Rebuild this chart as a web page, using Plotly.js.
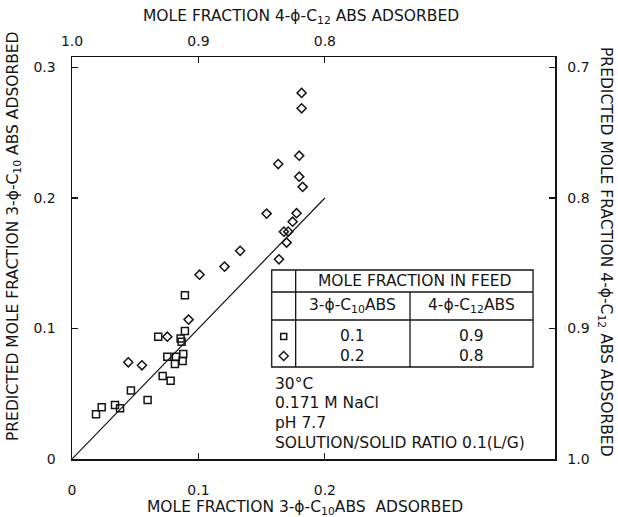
<!DOCTYPE html>
<html>
<head>
<meta charset="utf-8">
<script src="https://cdn.plot.ly/plotly-3.0.1.min.js"></script>
<style>html,body{margin:0;padding:0;background:#fff;}#chart{width:618px;height:517px;}</style>
</head>
<body>
<div id="chart"></div>
<script>
// Feed 0.1 / 0.9 (squares): measured vs predicted mole fraction of 3-phi-C10 ABS
const squareX = [0.019, 0.0235, 0.034, 0.038, 0.0466, 0.0598, 0.0682, 0.0717, 0.078, 0.0754, 0.0814, 0.0822, 0.0859, 0.0867, 0.088, 0.0875, 0.0893, 0.0893];
const squareY = [0.0342, 0.0396, 0.0414, 0.0388, 0.0525, 0.0452, 0.0937, 0.0636, 0.060, 0.0784, 0.0728, 0.0784, 0.0924, 0.0899, 0.0805, 0.0751, 0.098, 0.1254];
// Feed 0.2 / 0.8 (diamonds)
const diamondX = [0.0445, 0.0553, 0.0754, 0.0922, 0.1009, 0.1206, 0.1330, 0.1539, 0.1631, 0.1637, 0.1697, 0.1676, 0.1710, 0.1745, 0.1776, 0.1824, 0.1797, 0.1797, 0.1816, 0.1816];
const diamondY = [0.0741, 0.0718, 0.0937, 0.1068, 0.1412, 0.1474, 0.1595, 0.1880, 0.2260, 0.1530, 0.1658, 0.1742, 0.1742, 0.1818, 0.1883, 0.2085, 0.2163, 0.2324, 0.2687, 0.2805];
// Line of perfect agreement
const fitX = [0, 0.2];
const fitY = [0, 0.2];

const bottomTicks = [0, 0.1, 0.2];
const bottomLabels = ['0', '0.1', '0.2'];
const topTicks = [1.0, 0.9, 0.8];
const topLabels = ['1.0', '0.9', '0.8'];
const leftTicks = [0, 0.1, 0.2, 0.3];
const leftLabels = ['0', '0.1', '0.2', '0.3'];
const rightTicks = [0.7, 0.8, 0.9, 1.0];
const rightLabels = ['0.7', '0.8', '0.9', '1.0'];

const tableHeader = 'MOLE FRACTION IN FEED';
const feedSpecies = ['3-ϕ-C<sub>10</sub>ABS', '4-ϕ-C<sub>12</sub>ABS'];
const feedSquare = ['0.1', '0.9'];
const feedDiamond = ['0.2', '0.8'];
const conditions = ['30°C', '0.171 M NaCl', 'pH 7.7', 'SOLUTION/SOLID RATIO 0.1(L/G)'];

const titleBottom = 'MOLE FRACTION 3-ϕ-C<sub>10</sub>ABS  ADSORBED';
const titleTop = 'MOLE FRACTION 4-ϕ-C<sub>12</sub> ABS ADSORBED';
const titleLeft = 'PREDICTED MOLE FRACTION 3-ϕ-C<sub>10</sub> ABS ADSORBED';
const titleRight = 'PREDICTED MOLE FRACTION 4-ϕ-C<sub>12</sub> ABS ADSORBED';

const INK = '#141414';
const FONT = 'DejaVu Sans, sans-serif';

const traces = [
  {x: fitX, y: fitY, mode: 'lines', line: {color: INK, width: 1.2}, showlegend: false, hoverinfo: 'skip'},
  // same agreement line expressed in the complementary (4-phi-C12) mole fractions: binds top/right axes
  {x: fitX.map(v => 1 - v), y: fitY.map(v => 1 - v), xaxis: 'x2', yaxis: 'y2', mode: 'lines',
   line: {color: INK, width: 1.2}, opacity: 0, showlegend: false, hoverinfo: 'skip'},
  {x: squareX, y: squareY, mode: 'markers', name: 'feed 0.1/0.9',
   marker: {symbol: 'square-open', size: 7, color: INK, line: {width: 1.5, color: INK}}, showlegend: false},
  {x: diamondX, y: diamondY, mode: 'markers', name: 'feed 0.2/0.8',
   marker: {symbol: 'diamond-open', size: 7, color: INK, line: {width: 1.5, color: INK}}, showlegend: false}
];

const axisCommon = {
  showgrid: false, zeroline: false, showline: true, linecolor: INK, linewidth: 1.5,
  ticks: 'inside', ticklen: 6, tickwidth: 1.2, tickcolor: INK,
  tickmode: 'array', tickfont: {family: FONT, size: 14, color: INK}, fixedrange: true
};

// table geometry (paper units of the plot area)
const tL = 0.4135, tD1 = 0.4631, tD2 = 0.6998, tR = 0.9545;
const tT = 0.4701, tH1 = 0.4154, tH2 = 0.3458, tB = 0.2289;
const tline = {color: INK, width: 1.3};
const shapes = [
  {type: 'rect', xref: 'paper', yref: 'paper', x0: tL, x1: tR, y0: tB, y1: tT, line: tline},
  {type: 'line', xref: 'paper', yref: 'paper', x0: tL, x1: tR, y0: tH1, y1: tH1, line: tline},
  {type: 'line', xref: 'paper', yref: 'paper', x0: tL, x1: tR, y0: tH2, y1: tH2, line: tline},
  {type: 'line', xref: 'paper', yref: 'paper', x0: tD1, x1: tD1, y0: tB, y1: tT, line: tline},
  {type: 'line', xref: 'paper', yref: 'paper', x0: tD2, x1: tD2, y0: tB, y1: tH1, line: tline}
];
// legend symbols inside the table
const symX = (tL + tD1) / 2;
const rowSqY = 0.305, rowDiY = 0.2562;
const sqW = 6 / 483, sqH = 6 / 402;
shapes.push({type: 'rect', xref: 'paper', yref: 'paper', x0: symX - sqW / 2, x1: symX + sqW / 2,
  y0: rowSqY - sqH / 2, y1: rowSqY + sqH / 2, line: {color: INK, width: 1.5}});
const dW = 4.6 / 483, dH = 4.6 / 402;
shapes.push({type: 'path', xref: 'paper', yref: 'paper',
  path: `M ${symX - dW} ${rowDiY} L ${symX} ${rowDiY + dH} L ${symX + dW} ${rowDiY} L ${symX} ${rowDiY - dH} Z`,
  line: {color: INK, width: 1.4}});

const tf = {family: FONT, size: 15.5, color: INK};
const annotations = [];
function ann(text, x, y, opts) {
  annotations.push(Object.assign({text: text, x: x, y: y, xref: 'paper', yref: 'paper',
    showarrow: false, xanchor: 'center', yanchor: 'middle', font: tf}, opts || {}));
}
ann(tableHeader, (tD1 + tR) / 2, (tT + tH1) / 2);
ann(feedSpecies[0], (tD1 + tD2) / 2, 0.381);
ann(feedSpecies[1], (tD2 + tR) / 2, 0.381);
ann(feedSquare[0], (tD1 + tD2) / 2, rowSqY);
ann(feedSquare[1], (tD2 + tR) / 2, rowSqY);
ann(feedDiamond[0], (tD1 + tD2) / 2, rowDiY);
ann(feedDiamond[1], (tD2 + tR) / 2, rowDiY);
const condY = [0.1866, 0.1393, 0.0896, 0.0398];
conditions.forEach((c, i) => ann(c, tL + 0.002, condY[i], {xanchor: 'left'}));

const titleFont = {family: FONT, size: 15.5, color: INK};
ann(titleBottom, 0.4824, -0.1219, {font: titleFont});
ann(titleTop, 0.4741, 1.0995, {font: titleFont});
ann(titleLeft, -0.1201, 0.5547, {font: titleFont, textangle: -90});
ann(titleRight, 1.1035, 0.5149, {font: titleFont, textangle: 90});

const layout = {
  width: 618, height: 517,
  margin: {l: 72, r: 63, t: 57, b: 58, pad: 0},
  paper_bgcolor: '#ffffff', plot_bgcolor: '#ffffff',
  showlegend: false,
  font: {family: FONT, color: INK},
  xaxis: Object.assign({}, axisCommon, {range: [0, 0.382], tickvals: bottomTicks, ticktext: bottomLabels,
    side: 'bottom', anchor: 'y', ticklabelstandoff: 18}),
  xaxis2: Object.assign({}, axisCommon, {range: [1, 0.618], tickvals: topTicks, ticktext: topLabels,
    side: 'top', overlaying: 'x', anchor: 'y2', ticklabelstandoff: 4}),
  yaxis: Object.assign({}, axisCommon, {range: [0, 0.308], tickvals: leftTicks, ticktext: leftLabels,
    side: 'left', anchor: 'x', ticklabelstandoff: 12}),
  yaxis2: Object.assign({}, axisCommon, {range: [1, 0.692], tickvals: rightTicks, ticktext: rightLabels,
    side: 'right', overlaying: 'y', anchor: 'x2', ticklabelstandoff: 8}),
  shapes: shapes,
  annotations: annotations
};

Plotly.newPlot('chart', traces, layout, {staticPlot: true, displayModeBar: false});
</script>
</body>
</html>
